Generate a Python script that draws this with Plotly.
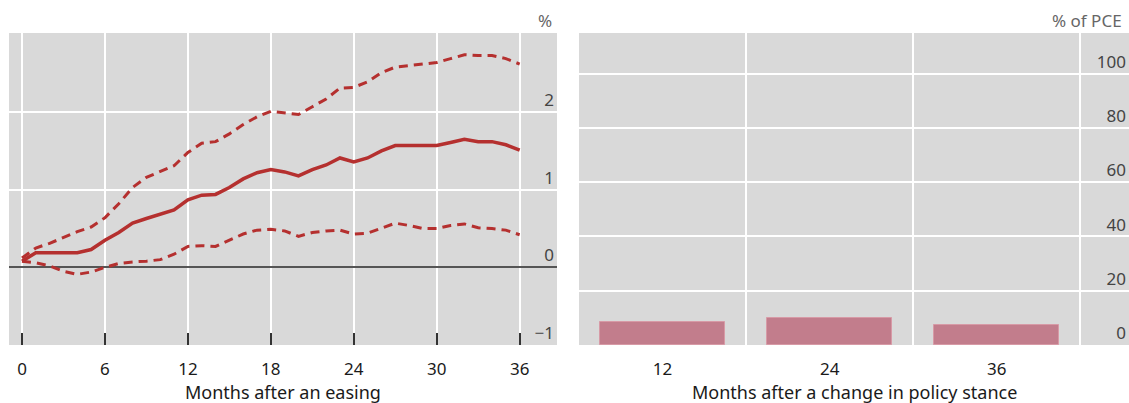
import plotly.graph_objects as go
from plotly.subplots import make_subplots

# Left panel: response after an easing (%), central estimate and bands
months = list(range(0, 37))
central = [0.08, 0.19, 0.19, 0.19, 0.19, 0.23, 0.35, 0.45, 0.57, 0.63, 0.68, 0.74, 0.87,
           0.93, 0.94, 1.03, 1.14, 1.22, 1.26, 1.23, 1.18, 1.26, 1.32, 1.41, 1.36, 1.41,
           1.50, 1.57, 1.57, 1.57, 1.57, 1.61, 1.65, 1.62, 1.62, 1.58, 1.51]
upper = [0.12, 0.25, 0.31, 0.39, 0.46, 0.52, 0.64, 0.82, 1.03, 1.16, 1.23, 1.31, 1.48,
         1.60, 1.62, 1.72, 1.84, 1.94, 2.01, 1.99, 1.97, 2.07, 2.17, 2.31, 2.32, 2.39,
         2.51, 2.58, 2.60, 2.62, 2.64, 2.69, 2.74, 2.73, 2.73, 2.69, 2.62]
lower = [0.08, 0.06, 0.02, -0.05, -0.09, -0.06, 0.00, 0.05, 0.07, 0.08, 0.10, 0.17, 0.27,
         0.28, 0.27, 0.35, 0.43, 0.48, 0.49, 0.47, 0.40, 0.45, 0.47, 0.48, 0.43, 0.44,
         0.50, 0.57, 0.54, 0.50, 0.50, 0.54, 0.56, 0.51, 0.50, 0.48, 0.42]
left_xticks = [0, 6, 12, 18, 24, 30, 36]
left_yticks = [-1, 0, 1, 2]

# Right panel: share of PCE (%)
horizons = [12, 24, 36]
pce_share = [8.4, 10.0, 7.5]
right_yticks = [0, 20, 40, 60, 80, 100]

RED = "#b5302f"
BAR = "#c27d8c"
BG = "#d9d9d9"
FONT = "Noto Sans"
DASH = "9px,6px"

fig = make_subplots(rows=1, cols=2)

fig.add_trace(go.Scatter(x=months, y=upper, mode="lines",
                         line=dict(color=RED, width=3, dash=DASH)), row=1, col=1)
fig.add_trace(go.Scatter(x=months, y=lower, mode="lines",
                         line=dict(color=RED, width=3, dash=DASH)), row=1, col=1)
fig.add_trace(go.Scatter(x=months, y=central, mode="lines",
                         line=dict(color=RED, width=3.5)), row=1, col=1)

fig.add_trace(go.Bar(x=horizons, y=pce_share, width=9,
                     marker=dict(color=BAR, line=dict(color="#d79aa6", width=1))),
              row=1, col=2)

W, H = 1129, 403
left_dom = [9 / W, 557 / W]
right_dom = [579 / W, 1.0]

fig.update_layout(
    width=W, height=H,
    margin=dict(l=0, r=0, t=33, b=58),
    paper_bgcolor="white",
    plot_bgcolor=BG,
    showlegend=False,
    font=dict(family=FONT, size=17, color="#1a1a1a"),
    bargap=0,
)

fig.update_xaxes(row=1, col=1, domain=left_dom, range=[-0.94, 38.7],
                 tickvals=left_xticks, ticks="inside", ticklen=12, tickwidth=1.5,
                 tickcolor="#333", showgrid=True, gridcolor="white", gridwidth=1.5,
                 zeroline=False, showline=False, ticklabelstandoff=12)
fig.update_yaxes(row=1, col=1, range=[-1, 3.02], tickvals=left_yticks,
                 ticktext=["\u22121", "0", "1", "2"],
                 side="right", ticklabelposition="inside top", ticks="",
                 showgrid=True, gridcolor="white", gridwidth=1.5,
                 zeroline=True, zerolinecolor="#555", zerolinewidth=1.5, showline=False)

fig.update_xaxes(row=1, col=2, domain=right_dom, range=[6, 45.5],
                 tickvals=horizons, ticks="", showgrid=False, zeroline=False,
                 minor=dict(tickvals=[18, 30, 42], showgrid=True, gridcolor="white",
                            gridwidth=1.5, ticks=""),
                 ticklabelstandoff=12)
fig.update_yaxes(row=1, col=2, range=[0, 115], tickvals=right_yticks,
                 side="right", ticklabelposition="inside top", ticks="",
                 showgrid=True, gridcolor="white", gridwidth=1.5,
                 zeroline=False, showline=False)

# Axis captions and units
fig.add_annotation(text="Months after an easing", xref="paper", yref="paper",
                   x=(left_dom[0] + left_dom[1]) / 2, xanchor="center", y=0,
                   yanchor="middle", yshift=-47, showarrow=False,
                   font=dict(size=18, color="#1a1a1a"))
fig.add_annotation(text="Months after a change in policy stance", xref="paper", yref="paper",
                   x=(right_dom[0] + right_dom[1]) / 2, xanchor="center", y=0,
                   yanchor="middle", yshift=-47, showarrow=False,
                   font=dict(size=18, color="#1a1a1a"))
fig.add_annotation(text="%", xref="paper", yref="paper", x=left_dom[1], xanchor="right",
                   xshift=-3, y=1, yanchor="middle", yshift=13, showarrow=False,
                   font=dict(size=17, color="#666"))
fig.add_annotation(text="% of PCE", xref="paper", yref="paper", x=1.0, xanchor="right",
                   xshift=-5, y=1, yanchor="middle", yshift=13, showarrow=False,
                   font=dict(size=17, color="#666"))

fig.write_html("out.html")
